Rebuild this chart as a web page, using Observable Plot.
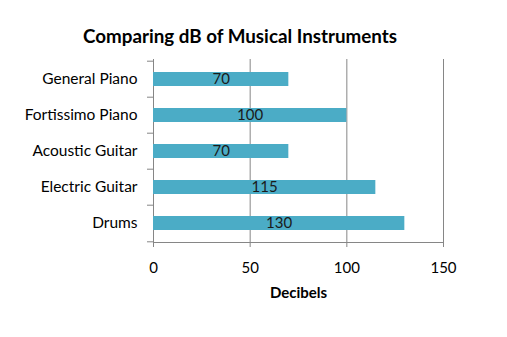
<!DOCTYPE html>
<html>
<head>
<meta charset="utf-8">
<script src="https://cdn.jsdelivr.net/npm/d3@7"></script>
<script src="https://cdn.jsdelivr.net/npm/@observablehq/plot@0.6"></script>
<style>
  html, body { margin: 0; padding: 0; background: #fff; }
  #wrap { width: 507px; height: 337px; position: relative; font-family: Lato, "Open Sans", sans-serif; }
  #title { position: absolute; left: 0; top: 24px; width: 480px; text-align: center; font-weight: bold; font-size: 18.8px; color: #000; line-height: 24px; }
  #chart { position: absolute; left: 0; top: 50px; }
</style>
</head>
<body>
<div id="wrap">
  <div id="title">Comparing dB of Musical Instruments</div>
  <div id="chart"></div>
</div>
<script>
const instruments = ["General Piano", "Fortissimo Piano", "Acoustic Guitar", "Electric Guitar", "Drums"];
const decibels = [70, 100, 70, 115, 130];
const xTicks = [0, 50, 100, 150];
const xLabel = "Decibels";

const data = instruments.map((name, i) => ({name, value: decibels[i]}));
const lastOnly = [instruments[instruments.length - 1]];

const step = (287 - 9 - 95) / instruments.length;

const plot = Plot.plot({
  width: 507,
  height: 287,
  marginTop: 9,
  marginBottom: 95,
  marginLeft: 153,
  marginRight: 64,
  style: {fontFamily: "Lato, 'Open Sans', sans-serif", fontSize: "15px", color: "#000", background: "#fff"},
  x: {domain: [0, 150], ticks: xTicks},
  y: {domain: instruments, paddingInner: 0.62, paddingOuter: 0.31},
  marks: [
    Plot.gridX(xTicks.slice(1), {stroke: "#868686", strokeOpacity: 1}),
    Plot.frame({anchor: "left", stroke: "#868686"}),
    Plot.frame({anchor: "bottom", stroke: "#868686"}),
    Plot.ruleY(instruments, {y: d => d, x1: 0, x2: 0, insetLeft: -6, dy: -step / 2, stroke: "#868686"}),
    Plot.ruleY(lastOnly, {y: d => d, x1: 0, x2: 0, insetLeft: -6, dy: step / 2, stroke: "#868686"}),
    Plot.barX(data, {x: "value", y: "name", fill: "#4BACC6"}),
    Plot.text(data, {x: d => d.value / 2, y: "name", text: d => String(d.value), fill: "#1a1a1a", fontSize: 15}),
    Plot.axisX({ticks: xTicks, tickSize: 5, tickPadding: 15, stroke: "#868686", label: null, fontSize: 15, color: "#000"}),
    Plot.axisY({tickSize: 0, tickPadding: 16, label: null, fontSize: 15.5}),
    Plot.text([xLabel], {frameAnchor: "bottom", dy: 55, text: d => d, fontWeight: "bold", fontSize: 15, fill: "#000"})
  ]
});
document.getElementById("chart").appendChild(plot);
</script>
</body>
</html>
